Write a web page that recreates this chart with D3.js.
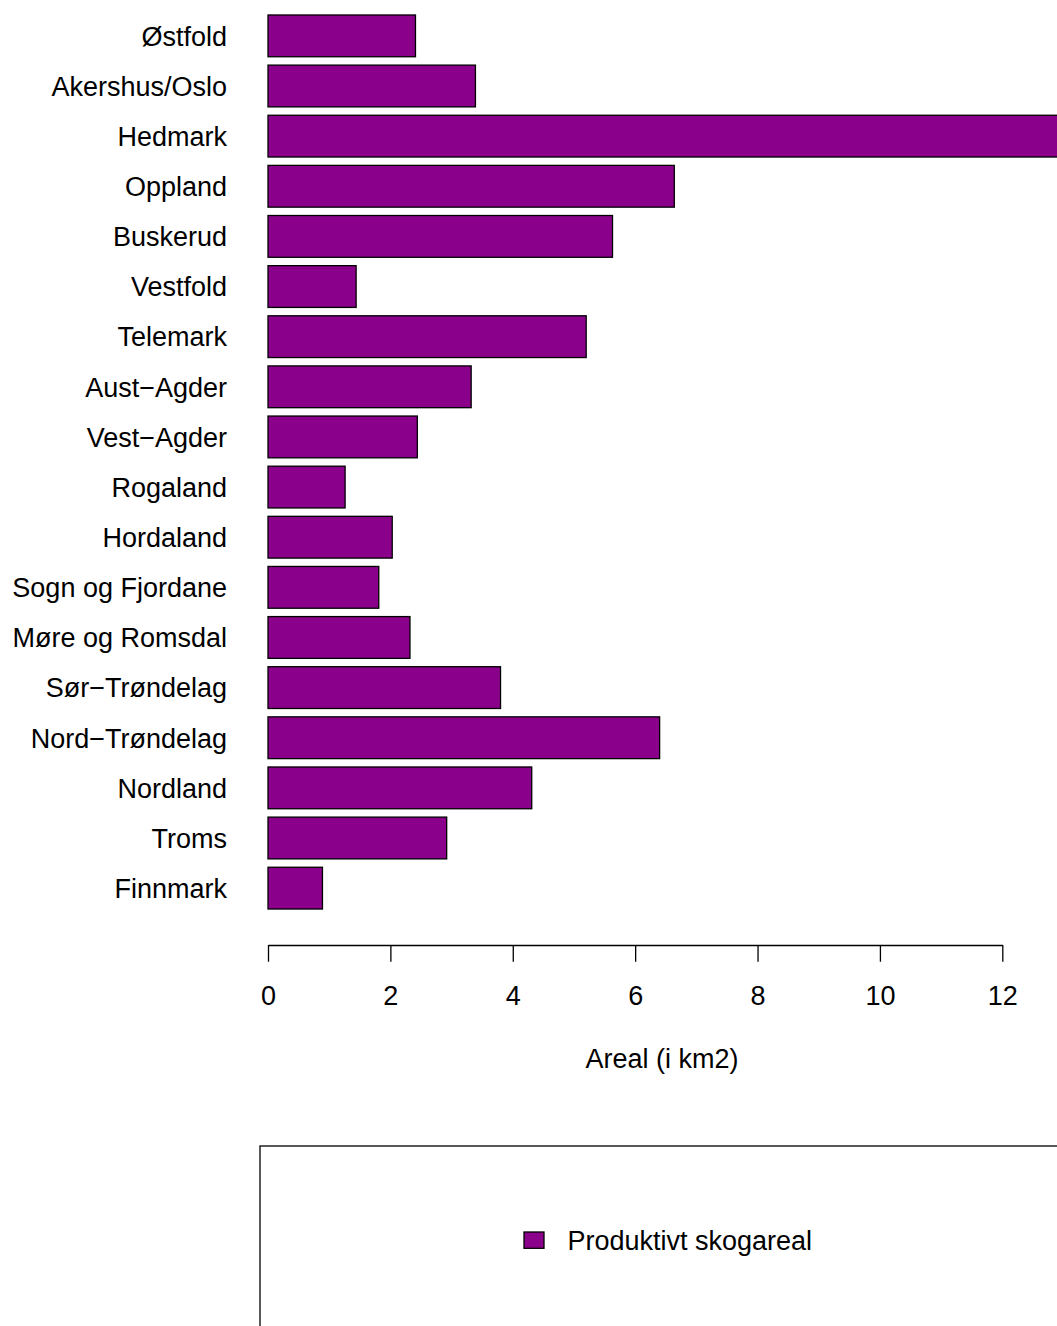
<!DOCTYPE html>
<html>
<head>
<meta charset="utf-8">
<script src="https://cdn.jsdelivr.net/npm/d3@7"></script>
<style>
  html, body { margin: 0; padding: 0; background: #fff; overflow: hidden; }
  svg { display: block; font-family: "Liberation Sans", Arial, Helvetica, sans-serif; }
</style>
</head>
<body>
<script>
const categories = ["Østfold", "Akershus/Oslo", "Hedmark", "Oppland", "Buskerud", "Vestfold",
  "Telemark", "Aust−Agder", "Vest−Agder", "Rogaland", "Hordaland", "Sogn og Fjordane",
  "Møre og Romsdal", "Sør−Trøndelag", "Nord−Trøndelag", "Nordland", "Troms", "Finnmark"];
const values = [2.41, 3.39, 13.05, 6.64, 5.63, 1.44, 5.20, 3.32, 2.44, 1.26, 2.03, 1.81,
  2.32, 3.80, 6.40, 4.31, 2.92, 0.89];
const tickValues = [0, 2, 4, 6, 8, 10, 12];
const seriesName = "Produktivt skogareal";
const axisTitle = "Areal (i km2)";

const W = 1057, H = 1326;
const fill = "#8B008B";
const fs = 27;

const svg = d3.select("body").append("svg").attr("width", W).attr("height", H);

const x = d3.scaleLinear().domain([0, 12]).range([268, 1002.3]);
const y = d3.scaleBand().domain(categories).range([10.8, 913.2])
  .paddingInner(1/6).paddingOuter(1/12);

// bars
svg.append("g").selectAll("rect").data(categories).join("rect")
  .attr("x", x(0))
  .attr("y", d => y(d))
  .attr("width", (d, i) => x(values[i]) - x(0))
  .attr("height", y.bandwidth())
  .attr("fill", fill)
  .attr("stroke", "#000")
  .attr("stroke-width", 1.3);

// category labels
svg.append("g").selectAll("text").data(categories).join("text")
  .attr("x", 227)
  .attr("y", d => y(d) + y.bandwidth() / 2 + 9.8)
  .attr("text-anchor", "end")
  .attr("font-size", fs)
  .attr("fill", "#000")
  .text(d => d);

// x axis
const axis = d3.axisBottom(x).tickValues(tickValues).tickSize(16.7).tickSizeOuter(0).tickPadding(24.5)
  .tickFormat(d3.format("d"));
const gAxis = svg.append("g").attr("transform", "translate(0,945)").call(axis);
gAxis.select(".domain").attr("stroke", "#000").attr("stroke-width", 1.3);
gAxis.selectAll(".tick line").attr("stroke", "#000").attr("stroke-width", 1.3);
gAxis.selectAll(".tick text").attr("font-size", fs).attr("fill", "#000")
  .attr("font-family", "Liberation Sans, Arial, sans-serif");

// axis title
svg.append("text")
  .attr("x", 662)
  .attr("y", 1068)
  .attr("text-anchor", "middle")
  .attr("font-size", fs)
  .attr("fill", "#000")
  .text(axisTitle);

// legend
svg.append("rect")
  .attr("x", 260).attr("y", 1146)
  .attr("width", 900).attr("height", 400)
  .attr("fill", "none").attr("stroke", "#000").attr("stroke-width", 1.3);
svg.append("rect")
  .attr("x", 524).attr("y", 1232)
  .attr("width", 20).attr("height", 16.3)
  .attr("fill", fill).attr("stroke", "#000").attr("stroke-width", 1.3);
svg.append("text")
  .attr("x", 567.5).attr("y", 1249.5)
  .attr("font-size", fs).attr("fill", "#000")
  .text(seriesName);
</script>
</body>
</html>
